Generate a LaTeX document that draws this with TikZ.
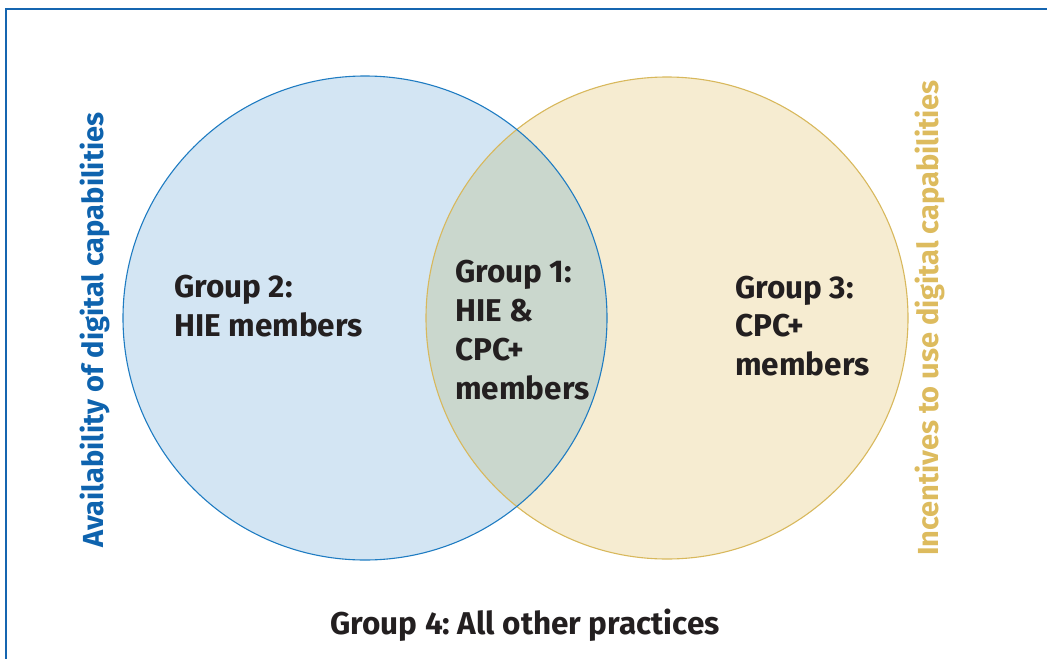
\documentclass[tikz,border=0pt]{standalone}
\usepackage{fontspec}
\setmainfont{Fira Sans}
\begin{document}
\begin{tikzpicture}[x=1pt,y=-1pt,
  frameline/.style={draw=framecol,line width=1.8pt},
  label/.style={font=\fontsize{31.5}{38.8}\selectfont\bfseries,text=ink,align=left,anchor=west,inner sep=0pt},
  axislabel/.style={font=\fontsize{29}{34}\selectfont\bfseries,rotate=90,inner sep=0pt}]
\definecolor{framecol}{HTML}{1565B0}
\definecolor{bluefill}{HTML}{D3E5F3}
\definecolor{bluedraw}{HTML}{1F7CC2}
\definecolor{yellowfill}{HTML}{F6ECD1}
\definecolor{yellowdraw}{HTML}{D8B85C}
\definecolor{overlapfill}{HTML}{CAD7CD}
\definecolor{ink}{HTML}{231F20}
\definecolor{bluetext}{HTML}{0E63AE}
\definecolor{yellowtext}{HTML}{DDBB5E}
\useasboundingbox (0,0) rectangle (1047,659);
% outer frame (open at right and bottom)
\draw[frameline] (1047,9) -- (6,9) -- (6,659);
% circle centres
\coordinate (cb) at (365,318);
\coordinate (cy) at (667,318);
% fills
\fill[bluefill] (cb) circle[radius=242];
\fill[yellowfill] (cy) circle[radius=241];
\begin{scope}
  \clip (cb) circle[radius=242];
  \fill[overlapfill] (cy) circle[radius=241];
\end{scope}
% outlines
\draw[yellowdraw,line width=1.1pt] (cy) circle[radius=241];
\draw[bluedraw,line width=1.1pt] (cb) circle[radius=242];
% labels
\node[label] (g2) at (174,306) {Group 2:\\HIE members};
\node[label] (g1) at (455,330) {Group 1:\\HIE \&\\CPC+\\members};
\node[label] (g3) at (735,326) {Group 3:\\CPC+\\members};
\node[label,anchor=center] (g4) at (525,625) {Group 4:\ All other practices};
\node[axislabel,text=bluetext] (ax1) at (95,330) {Availability of digital capabilities};
\node[axislabel,text=yellowtext] (ax2) at (930,318) {Incentives to use digital capabilities};
\end{tikzpicture}
\end{document}
